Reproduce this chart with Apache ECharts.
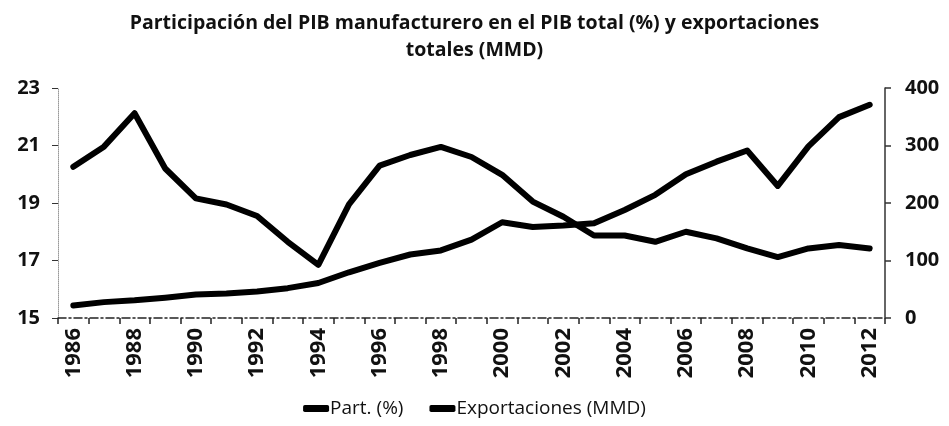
<!DOCTYPE html>
<html><head><meta charset="utf-8">
<script src="https://cdn.jsdelivr.net/npm/echarts@6/dist/echarts.min.js"></script>
<style>html,body{margin:0;padding:0;background:#fff}#c{width:949px;height:426px}</style>
</head><body><div id="c"></div>
<script>
const years = ['1986','1987','1988','1989','1990','1991','1992','1993','1994','1995','1996','1997','1998','1999','2000','2001','2002','2003','2004','2005','2006','2007','2008','2009','2010','2011','2012'];
const partPct = [20.26,20.96,22.12,20.2,19.16,18.95,18.55,17.65,16.85,18.95,20.3,20.67,20.95,20.6,19.98,19.05,18.52,17.87,17.87,17.65,18.0,17.77,17.42,17.12,17.42,17.54,17.42];
const exportsMMD = [21.8,27.6,30.7,35.2,40.7,42.7,46.2,51.9,60.9,79.5,96.0,110.4,117.5,136.4,166.5,158.4,161.0,164.8,187.9,214.2,250.0,271.9,291.3,229.7,298.5,349.4,370.9];
const leftTicks = {min:15, max:23, interval:2};
const rightTicks = {min:0, max:400, interval:100};

const chart = echarts.init(document.getElementById('c'));
const font = '"Open Sans", "Liberation Sans", sans-serif';
chart.setOption({
  animation:false,
  title:{
    text:'Participación del PIB manufacturero en el PIB total (%) y exportaciones\ntotales (MMD)',
    left:'center', top:5,
    textStyle:{fontFamily:font, fontWeight:'bold', fontSize:19.5, color:'#111', lineHeight:27}
  },
  legend:{
    bottom:3, left:'center', itemWidth:26, itemHeight:7, itemGap:26,
    textStyle:{fontFamily:font, fontSize:19, color:'#111', padding:[0,0,0,-4]},
    data:[{name:'Part. (%)', icon:'roundRect'},{name:'Exportaciones (MMD)', icon:'roundRect'}]
  },
  grid:{left:58, right:64, top:88, bottom:108},
  xAxis:{
    type:'category', data:years, boundaryGap:true,
    axisLine:{lineStyle:{color:'#222', width:1.5, type:[8,3,2,3]}},
    axisTick:{show:true, alignWithLabel:false, interval:0, length:6, lineStyle:{color:'#222', width:1.5}},
    axisLabel:{interval:1, rotate:90, fontFamily:font, fontWeight:'bold', fontSize:22, color:'#111', margin:10}
  },
  yAxis:[
    {type:'value', min:leftTicks.min, max:leftTicks.max, interval:leftTicks.interval, position:'left',
     splitLine:{show:false},
     axisLine:{show:true, lineStyle:{color:'#999', width:1, type:'dotted'}},
     axisTick:{show:true, length:6, lineStyle:{color:'#333'}},
     axisLabel:{fontFamily:font, fontWeight:'bold', fontSize:20, color:'#111', margin:18}},
    {type:'value', min:rightTicks.min, max:rightTicks.max, interval:rightTicks.interval, position:'right',
     splitLine:{show:false},
     axisLine:{show:true, lineStyle:{color:'#333', width:1.5}},
     axisTick:{show:true, length:6, lineStyle:{color:'#333', width:1.5}},
     axisLabel:{fontFamily:font, fontWeight:'bold', fontSize:20, color:'#111', margin:20}}
  ],
  series:[
    {name:'Part. (%)', type:'line', yAxisIndex:0, data:partPct, showSymbol:false, symbol:'none',
     lineStyle:{color:'#000', width:6, cap:'round', join:'round'}, itemStyle:{color:'#000'}},
    {name:'Exportaciones (MMD)', type:'line', yAxisIndex:1, data:exportsMMD, showSymbol:false, symbol:'none',
     lineStyle:{color:'#000', width:6, cap:'round', join:'round'}, itemStyle:{color:'#000'}}
  ]
});
</script></body></html>
